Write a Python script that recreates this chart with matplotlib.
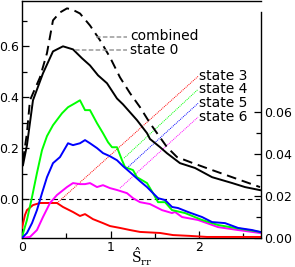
import numpy as np
import matplotlib
matplotlib.use("Agg")
import matplotlib.pyplot as plt
from matplotlib.ticker import FixedLocator

plt.rcParams["font.family"] = "DejaVu Sans"
plt.rcParams["mathtext.fontset"] = "dejavuserif"

# ── Data ──────────────────────────────────────────────────────────────
# black curves, left axis
x_state0 = [0.011, 0.056, 0.124, 0.237, 0.350, 0.463, 0.576, 0.678, 0.768,
            0.859, 0.960, 1.073, 1.141, 1.299, 1.412, 1.446, 1.559, 1.638,
            1.785, 1.955, 2.147, 2.373, 2.520, 2.689]
y_state0 = [0.133, 0.212, 0.388, 0.494, 0.580, 0.600, 0.588, 0.553, 0.525,
            0.486, 0.455, 0.395, 0.372, 0.310, 0.259, 0.236, 0.204, 0.180,
            0.141, 0.122, 0.086, 0.063, 0.047, 0.035]

x_comb = [0.011, 0.056, 0.090, 0.203, 0.282, 0.350, 0.429, 0.508, 0.565,
          0.655, 0.768, 0.881, 0.994, 1.107, 1.220, 1.333, 1.446, 1.525,
          1.638, 1.751, 1.932, 2.147, 2.373, 2.689]
y_comb = [0.150, 0.260, 0.388, 0.478, 0.573, 0.702, 0.733, 0.749, 0.745,
          0.729, 0.682, 0.624, 0.557, 0.478, 0.416, 0.361, 0.298, 0.259,
          0.204, 0.165, 0.141, 0.114, 0.086, 0.047]

# coloured curves, right axis
x_s3 = [0.0, 0.034, 0.056, 0.124, 0.203, 0.316, 0.395, 0.463, 0.576, 0.655,
        0.712, 0.802, 0.915, 0.994, 1.107, 1.220, 1.333, 1.559, 1.706, 1.898,
        2.090, 2.350, 2.689]
y_s3 = [0.0048, 0.0110, 0.0133, 0.0157, 0.0167, 0.0167, 0.0167, 0.0148,
        0.0124, 0.0105, 0.0114, 0.0090, 0.0071, 0.0057, 0.0048, 0.0038,
        0.0029, 0.0024, 0.0014, 0.0010, 0.0005, 0.0005, 0.0005]

x_s4 = [0.0, 0.056, 0.113, 0.169, 0.226, 0.282, 0.350, 0.452, 0.520, 0.599,
        0.655, 0.712, 0.768, 0.847, 0.915, 0.972, 1.017, 1.073, 1.130, 1.164,
        1.254, 1.299, 1.412, 1.480, 1.537, 1.616, 1.695, 1.842, 2.034, 2.215,
        2.407, 2.689]
y_s4 = [0.0005, 0.0086, 0.0195, 0.0310, 0.0419, 0.0486, 0.0538, 0.0595,
        0.0624, 0.0643, 0.0657, 0.0610, 0.0610, 0.0548, 0.0500, 0.0457,
        0.0433, 0.0433, 0.0371, 0.0338, 0.0324, 0.0290, 0.0262, 0.0214,
        0.0171, 0.0171, 0.0133, 0.0119, 0.0086, 0.0062, 0.0048, 0.0029]

x_s5 = [0.0, 0.056, 0.113, 0.169, 0.226, 0.282, 0.350, 0.429, 0.520, 0.576,
        0.655, 0.712, 0.768, 0.847, 0.915, 0.994, 1.073, 1.141, 1.220, 1.333,
        1.412, 1.480, 1.537, 1.616, 1.695, 1.763, 1.876, 2.034, 2.147, 2.294,
        2.441, 2.599, 2.689]
y_s5 = [0.0, 0.0024, 0.0071, 0.0133, 0.0214, 0.0290, 0.0357, 0.0386,
        0.0452, 0.0443, 0.0452, 0.0467, 0.0452, 0.0429, 0.0405, 0.0390,
        0.0371, 0.0343, 0.0314, 0.0271, 0.0243, 0.0214, 0.0190, 0.0181,
        0.0148, 0.0143, 0.0124, 0.0100, 0.0076, 0.0071, 0.0048, 0.0038,
        0.0029]

x_s6 = [0.0, 0.090, 0.169, 0.237, 0.316, 0.395, 0.508, 0.576, 0.655, 0.712,
        0.768, 0.847, 0.915, 0.994, 1.073, 1.186, 1.254, 1.333, 1.446, 1.582,
        1.695, 1.729, 1.808, 1.989, 2.215, 2.441, 2.689]
y_s6 = [0.0, 0.0005, 0.0038, 0.0100, 0.0167, 0.0205, 0.0243, 0.0262,
        0.0257, 0.0257, 0.0262, 0.0243, 0.0252, 0.0238, 0.0229, 0.0214,
        0.0190, 0.0171, 0.0162, 0.0133, 0.0119, 0.0124, 0.0100, 0.0086,
        0.0052, 0.0038, 0.0024]

# ── Figure ────────────────────────────────────────────────────────────
fig = plt.figure(figsize=(2.95, 2.67), dpi=100)
ax1 = fig.add_axes([22/295, 29/267, 239/295, 237.5/267])
ax2 = ax1.twinx()

lw = 1.4
ax1.axhline(0.0, color="black", lw=0.8, ls=(0, (4, 3)))
ax1.plot(x_comb, y_comb, color="black", lw=lw, ls=(0, (5, 3)))
ax1.plot(x_state0, y_state0, color="black", lw=lw)

ax2.plot(x_s3, y_s3, color="#ff0000", lw=lw)
ax2.plot(x_s6, y_s6, color="#ff00ff", lw=lw)
ax2.plot(x_s4, y_s4, color="#00ff00", lw=lw)
ax2.plot(x_s5, y_s5, color="#0000ff", lw=lw)

# ── labels with leader lines (left-axis data coords) ─────────────────
ax1.plot([0.836, 1.186], [0.635, 0.635], color="#999999", lw=1.1,
         ls=(0, (3, 1.5)))
ax1.plot([0.599, 1.186], [0.584, 0.584], color="#999999", lw=1.1,
         ls=(0, (3, 1.5)))
ax1.text(1.22, 0.639, "combined", fontsize=10, va="center", ha="left")
ax1.text(1.22, 0.584, "state 0", fontsize=10, va="center", ha="left")

leaders = [("state 3", "#ff0000", (0.395, -0.016), 0.482),
           ("state 4", "#00ff00", (1.153, 0.161), 0.431),
           ("state 5", "#0000ff", (1.186, 0.122), 0.376),
           ("state 6", "#ff00ff", (1.107, 0.043), 0.322)]
for name, c, (xe, ye), yt in leaders:
    ax1.plot([xe, 1.989], [ye, yt], color=c, lw=0.7, ls=(0, (1, 1)),
             zorder=1)
    ax1.text(2.0, yt, name, fontsize=10, va="center", ha="left")

# ── Axes styling ──────────────────────────────────────────────────────
ax1.set_xlim(0, 2.70)
ax1.set_ylim(-0.153, 0.780)
ax2.set_ylim(0, 0.1133)

ax1.xaxis.set_major_locator(FixedLocator([0, 1, 2]))
ax1.xaxis.set_minor_locator(FixedLocator([0.5, 1.5, 2.5]))
ax1.yaxis.set_major_locator(FixedLocator([0.0, 0.2, 0.4, 0.6]))
ax1.yaxis.set_minor_locator(FixedLocator([0.1, 0.3, 0.5, 0.7]))
ax1.set_yticklabels(["0.0", "0.2", "0.4", "0.6"])
ax2.yaxis.set_major_locator(FixedLocator([0.0, 0.02, 0.04, 0.06]))
ax2.yaxis.set_minor_locator(FixedLocator([0.01, 0.03, 0.05]))
ax2.set_yticklabels(["0.00", "0.02", "0.04", "0.06"])

ax1.tick_params(which="both", direction="in", labelsize=9, pad=2,
                width=0.9, top=False, right=False)
ax1.tick_params(which="major", length=5)
ax1.tick_params(which="minor", length=3.5)
ax2.tick_params(which="both", direction="in", labelsize=9, pad=2,
                width=0.9)
ax2.tick_params(which="major", length=5)
ax2.tick_params(which="minor", length=3.5)

for s in ax1.spines.values():
    s.set_linewidth(1.0)
ax1.spines["right"].set_visible(False)
for k in ["left", "top", "bottom"]:
    ax2.spines[k].set_visible(False)
ax2.spines["right"].set_linewidth(1.0)
ax2.spines["right"].set_bounds(0, 0.1076)

ax1.set_xlabel(r"$\hat{\mathrm{S}}_{\rm rr}$", fontsize=10)
ax1.xaxis.set_label_coords(0.5, -0.033, transform=ax1.transAxes)
ax1.xaxis.label.set_va("top")

fig.savefig("out.png", dpi=100)
